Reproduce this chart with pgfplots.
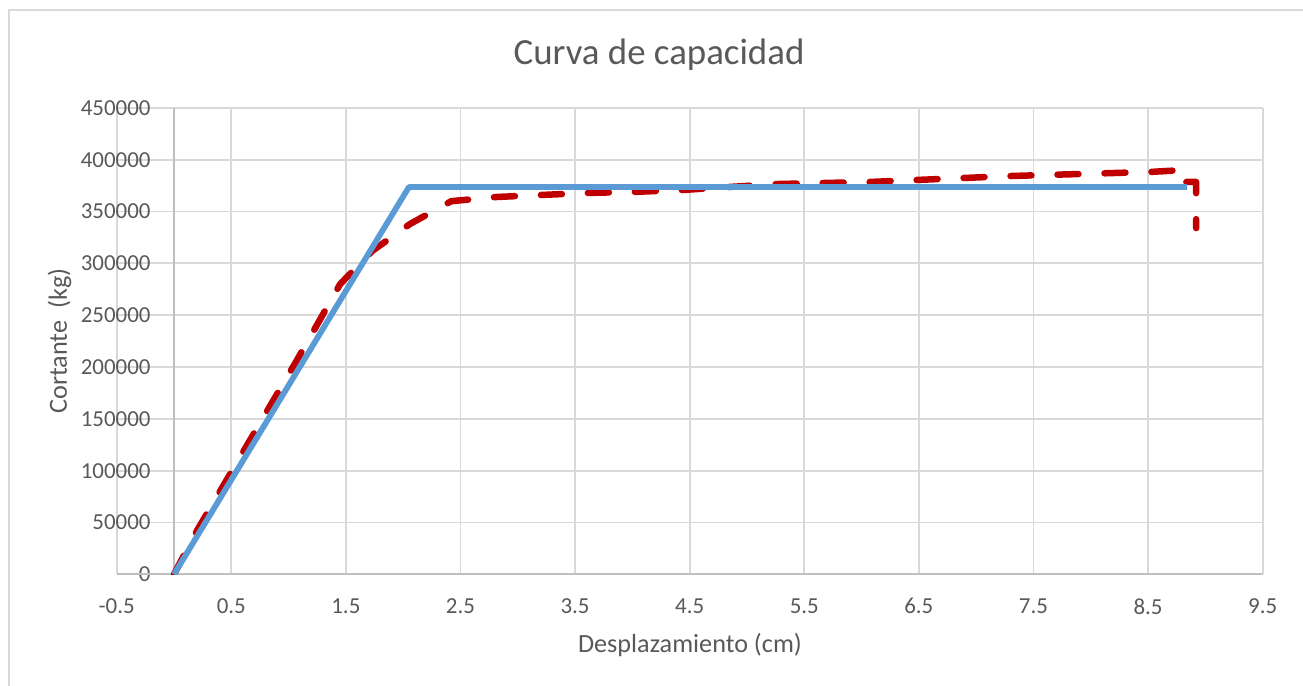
\documentclass[border=0pt]{standalone}
\usepackage{fontspec}
\setmainfont{Carlito}
\usepackage{pgfplots}
\pgfplotsset{compat=1.18}
\definecolor{gridc}{HTML}{D9D9D9}
\definecolor{axc}{HTML}{BFBFBF}
\definecolor{txt}{HTML}{595959}
\definecolor{blueL}{HTML}{5B9BD5}
\definecolor{redL}{HTML}{C00000}
\begin{document}
\begin{tikzpicture}[x=1bp,y=1bp]
\useasboundingbox (-116.7,-110.7) rectangle (1186.3,574.3);
\draw[gridc, line width=1.5bp] (-107.7,-130) -- (-107.7,564.3) -- (1200,564.3);
\begin{axis}[
  at={(0,0)}, anchor=south west, scale only axis,
  width=1146bp, height=466.4bp,
  xmin=-0.5, xmax=9.5, ymin=0, ymax=450000,
  xtick={-0.5,0.5,1.5,2.5,3.5,4.5,5.5,6.5,7.5,8.5,9.5},
  ytick={0,50000,100000,150000,200000,250000,300000,350000,400000,450000},
  grid=major,
  major grid style={gridc, line width=1.9bp},
  axis line style={draw=none},
  major tick length=0pt,
  scaled y ticks=false, scaled x ticks=false,
  /pgf/number format/assume math mode=true,
  xticklabel={\pgfmathprintnumber[fixed, fixed zerofill, precision=1, 1000 sep={}]{\tick}},
  yticklabel={\pgfmathprintnumber[fixed, precision=0, 1000 sep={}]{\tick}},
  tick label style={font=\fontsize{23}{27}\selectfont, text=txt},
  yticklabel style={anchor=east, inner sep=0pt, xshift=34bp},
  xticklabel style={anchor=north, inner sep=0pt, yshift=-24bp},
]
\draw[axc, line width=1.9bp] (axis cs:0,0) -- (axis cs:0,450000);
\draw[axc, line width=1.9bp] (axis cs:-0.5,0) -- (axis cs:9.5,0);
\addplot[redL, line width=6.5bp, dash pattern=on 21bp off 26bp, line cap=round, line join=round] coordinates {
(0,0) (0.2,42000) (0.64,125000) (1.07,206000) (1.45,280000) (1.73,312000)
(2.06,338000) (2.42,360000) (2.81,364000) (3.21,366000) (3.63,368000)
(4.03,369000) (4.44,370800) (4.85,373700) (5.25,376500) (5.66,377500)
(6.07,378500) (6.47,380400) (6.88,382300) (7.28,384200) (7.9,386200)
(8.52,388200) (8.82,390100) (8.82,378500) (8.92,378500) (8.92,334000)
};
\addplot[blueL, line width=5.8bp, line join=round] coordinates {
(0,0) (2.05,373600) (8.84,373600)
};
\end{axis}
\node[anchor=base, text=txt, font=\fontsize{37}{42}\selectfont, inner sep=0pt] at (542.3,509.3) {Curva de capacidad};
\node[anchor=base, text=txt, font=\fontsize{26.3}{31}\selectfont, inner sep=0pt] at (573.3,-77.7) {Desplazamiento (cm)};
\node[anchor=base, rotate=90, text=txt, font=\fontsize{26.3}{31}\selectfont, inner sep=0pt] at (-49.7,233.3) {Cortante\ \ (kg)};
\end{tikzpicture}
\end{document}
